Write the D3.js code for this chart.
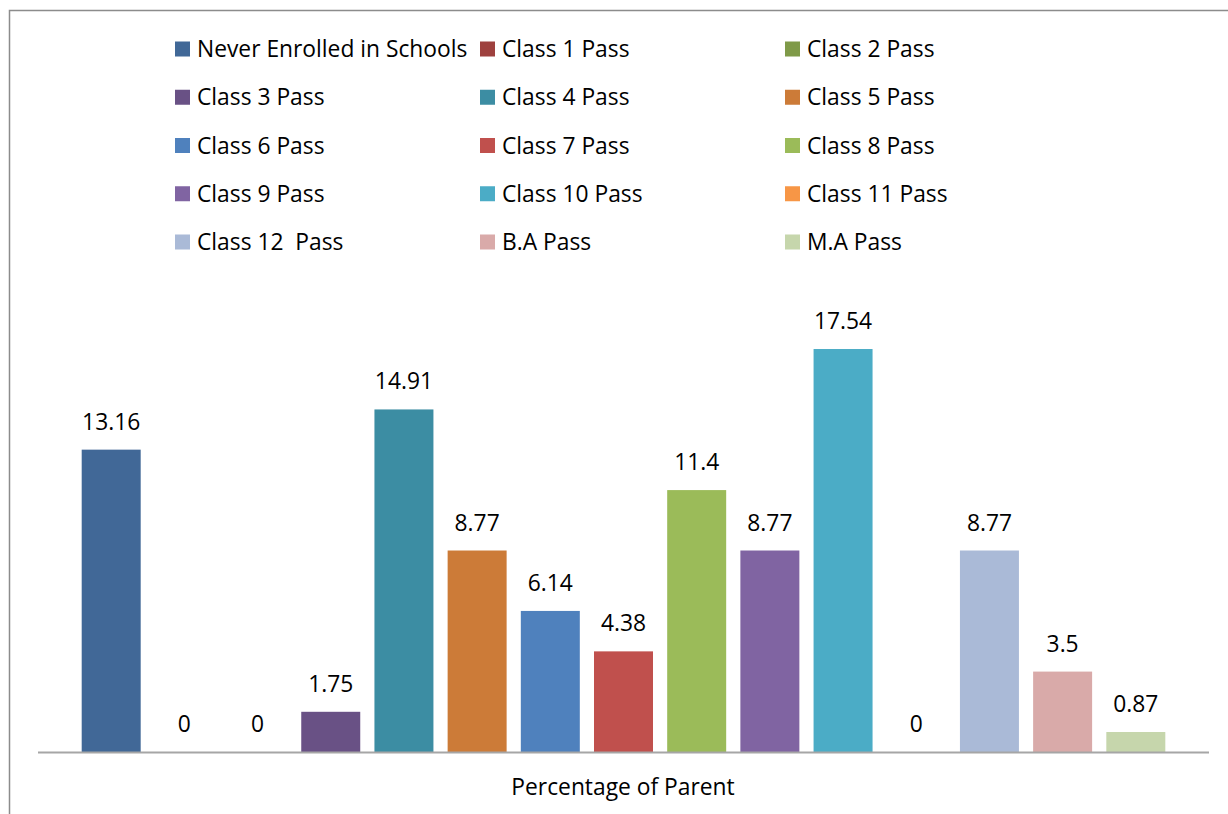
<!DOCTYPE html>
<html>
<head>
<meta charset="utf-8">
<script src="https://cdn.jsdelivr.net/npm/d3@7"></script>
<style>
  html, body { margin: 0; padding: 0; background: #fff; }
  svg { display: block; }
  text { font-family: "Open Sans", Lato, "Liberation Sans", sans-serif; fill: #000; white-space: pre; }
</style>
</head>
<body>
<svg id="chart" width="1228" height="814"></svg>
<script>
// Education level of parents (percentage)
const categories = [
  "Never Enrolled in Schools", "Class 1 Pass", "Class 2 Pass", "Class 3 Pass",
  "Class 4 Pass", "Class 5 Pass", "Class 6 Pass", "Class 7 Pass",
  "Class 8 Pass", "Class 9 Pass", "Class 10 Pass", "Class 11 Pass",
  "Class 12  Pass", "B.A Pass", "M.A Pass"
];
const values = [13.16, 0, 0, 1.75, 14.91, 8.77, 6.14, 4.38, 11.4, 8.77, 17.54, 0, 8.77, 3.5, 0.87];
const colors = [
  "#416897", "#9E413E", "#7F9A48", "#695185", "#3C8DA3", "#CC7B38",
  "#4F81BD", "#C0504D", "#9BBB59", "#8064A2", "#4BACC6", "#F79646",
  "#AABAD7", "#D9AAA9", "#C6D6AC"
];
const axisTitle = "Percentage of Parent";
const yDomain = [0, 20];

const svg = d3.select("#chart");
const fontSize = "22.8px";

// Chart-area frame (runs past the right and bottom edges)
svg.append("rect")
  .attr("x", 9.5).attr("y", 10.5)
  .attr("width", 1240).attr("height", 840)
  .attr("fill", "none")
  .attr("stroke", "#8c8c8c")
  .attr("stroke-width", 1.5);

const axisLeft = 38, axisRight = 1209, axisY = 752;

const x = d3.scaleBand()
  .domain(categories)
  .range([axisLeft, axisRight])
  .paddingInner(0.194)
  .paddingOuter(0.597);

const y = d3.scaleLinear()
  .domain(yDomain)
  .range([axisY, 292.5]);

const color = d3.scaleOrdinal().domain(categories).range(colors);

const data = categories.map((c, i) => ({ cat: c, val: values[i] }));

// Bars
svg.append("g")
  .selectAll("rect")
  .data(data)
  .join("rect")
  .attr("x", d => x(d.cat))
  .attr("y", d => y(d.val))
  .attr("width", x.bandwidth())
  .attr("height", d => y(0) - y(d.val))
  .attr("fill", d => color(d.cat));

// Value labels
svg.append("g")
  .selectAll("text")
  .data(data)
  .join("text")
  .attr("x", d => x(d.cat) + x.bandwidth() / 2)
  .attr("y", d => y(d.val) - 20)
  .attr("text-anchor", "middle")
  .style("font-size", fontSize)
  .text(d => d.val);

// Category axis line
svg.append("line")
  .attr("x1", axisLeft).attr("x2", axisRight)
  .attr("y1", axisY + 0.5).attr("y2", axisY + 0.5)
  .attr("stroke", "#a6a6a6")
  .attr("stroke-width", 2);

// Axis title
svg.append("text")
  .attr("x", 623)
  .attr("y", 795)
  .attr("text-anchor", "middle")
  .style("font-size", fontSize)
  .text(axisTitle);

// Legend: three columns, row-major
const legendCols = [175, 480, 785];
const legendRowY = d3.scaleLinear().domain([0, 4]).range([49, 242]);
const legend = svg.append("g")
  .selectAll("g")
  .data(data)
  .join("g")
  .attr("transform", (d, i) => `translate(${legendCols[i % 3]},${legendRowY(Math.floor(i / 3))})`);

legend.append("rect")
  .attr("x", 0).attr("y", -7.5)
  .attr("width", 15).attr("height", 15)
  .attr("fill", d => color(d.cat));

legend.append("text")
  .attr("x", 22)
  .attr("y", 8)
  .style("font-size", fontSize)
  .text(d => d.cat);
</script>
</body>
</html>
